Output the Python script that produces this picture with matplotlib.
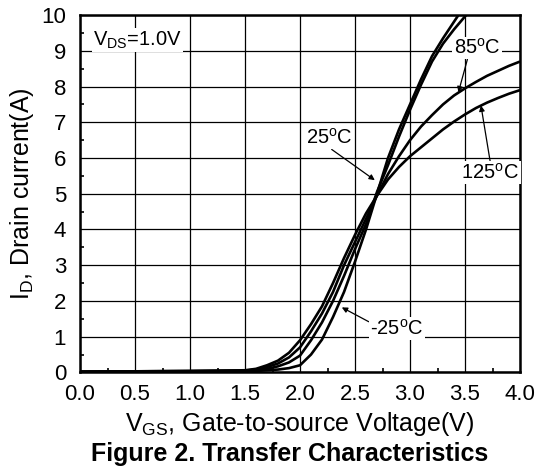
import matplotlib
matplotlib.use("Agg")
import matplotlib.pyplot as plt
from matplotlib.ticker import MultipleLocator

plt.rcParams['font.family'] = ['Liberation Sans', 'DejaVu Sans']
plt.rcParams['mathtext.fontset'] = 'custom'
plt.rcParams['mathtext.rm'] = 'Liberation Sans'
plt.rcParams['mathtext.it'] = 'Liberation Sans:italic'
plt.rcParams['mathtext.bf'] = 'Liberation Sans:bold'

# Vgs (V) and Id (A) readings for each temperature
vgs_125 = [0.0, 0.5, 1.0, 1.5, 1.6, 1.7, 1.8, 1.9, 2.0, 2.1, 2.2, 2.3, 2.4, 2.5, 2.6, 2.7,
           2.8, 2.9, 3.0, 3.1, 3.2, 3.3, 3.4, 3.5, 3.6, 3.7, 3.8, 3.9, 4.0]
id_125 = [0.02, 0.03, 0.04, 0.06, 0.10, 0.20, 0.33, 0.55, 0.90, 1.35, 1.85, 2.50, 3.20, 3.85, 4.45, 4.95,
          5.40, 5.75, 6.05, 6.30, 6.55, 6.80, 7.02, 7.22, 7.40, 7.55, 7.68, 7.80, 7.90]

vgs_85 = [0.0, 0.5, 1.0, 1.5, 1.6, 1.7, 1.8, 1.9, 2.0, 2.1, 2.2, 2.3, 2.4, 2.5, 2.6, 2.7,
          2.8, 2.9, 3.0, 3.1, 3.2, 3.3, 3.4, 3.5, 3.6, 3.7, 3.8, 3.9, 4.0]
id_85 = [0.02, 0.03, 0.04, 0.05, 0.08, 0.15, 0.25, 0.42, 0.70, 1.15, 1.65, 2.25, 3.00, 3.65, 4.30, 4.95,
         5.55, 6.05, 6.50, 6.88, 7.20, 7.50, 7.75, 7.95, 8.13, 8.30, 8.44, 8.58, 8.70]

vgs_25 = [0.0, 0.5, 1.0, 1.5, 1.6, 1.7, 1.8, 1.9, 2.0, 2.1, 2.2, 2.3, 2.4, 2.5, 2.6, 2.7,
          2.8, 2.9, 3.0, 3.1, 3.2, 3.3, 3.4, 3.51]
id_25 = [0.02, 0.03, 0.03, 0.04, 0.06, 0.10, 0.17, 0.28, 0.47, 0.90, 1.40, 2.00, 2.70, 3.45, 4.15, 5.05,
         5.80, 6.60, 7.35, 8.05, 8.70, 9.20, 9.60, 10.0]

vgs_m25 = [0.0, 0.5, 1.0, 1.5, 1.6, 1.7, 1.8, 1.9, 2.0, 2.1, 2.2, 2.3, 2.4, 2.5, 2.6, 2.7,
           2.8, 2.9, 3.0, 3.1, 3.2, 3.3, 3.44]
id_m25 = [0.01, 0.02, 0.03, 0.03, 0.04, 0.06, 0.08, 0.12, 0.20, 0.50, 0.92, 1.55, 2.25, 3.10, 4.00, 5.00,
          6.00, 6.80, 7.50, 8.20, 8.85, 9.35, 10.0]

x_ticks = [0.0, 0.5, 1.0, 1.5, 2.0, 2.5, 3.0, 3.5, 4.0]
y_ticks = [0, 1, 2, 3, 4, 5, 6, 7, 8, 9, 10]

fig = plt.figure(figsize=(5.41, 4.72), dpi=100)
ax = fig.add_axes([0.1479, 0.211, 0.8133, 0.757])

for xs, ys in [(vgs_125, id_125), (vgs_85, id_85), (vgs_25, id_25), (vgs_m25, id_m25)]:
    ax.plot(xs, ys, color='black', lw=1.9, solid_capstyle='butt', zorder=3)

ax.set_xlim(0, 4)
ax.set_ylim(0, 10)
ax.set_xticks(x_ticks)
ax.set_xticklabels([f"{v:.1f}" for v in x_ticks])
ax.set_yticks(y_ticks)
ax.xaxis.set_minor_locator(MultipleLocator(0.25))
ax.yaxis.set_minor_locator(MultipleLocator(0.5))
ax.tick_params(which='both', direction='in', labelsize=16, width=1.2, color='black')
ax.tick_params(which='major', length=0)
ax.tick_params(which='minor', length=3)
ax.tick_params(axis='x', which='major', pad=8)
ax.tick_params(axis='y', which='major', pad=10)
ax.grid(True, which='major', color='black', lw=0.9)
for s in ax.spines.values():
    s.set_linewidth(1.8)

ax.set_xlabel(r"V$_\mathregular{GS}$, Gate-to-source Voltage(V)", fontsize=18)
ax.set_ylabel(r"I$_\mathregular{D}$, Drain current(A)", fontsize=18)
ax.xaxis.set_label_coords(0.5, -0.105)
ax.yaxis.set_label_coords(-0.10, 0.5)
fig.text(0.535, 0.038, "Figure 2. Transfer Characteristics", ha='center', va='center',
         fontsize=18, fontweight='bold')

box = dict(facecolor='white', edgecolor='none', pad=1.0)
ax.text(0.12, 9.3, r"V$_\mathregular{DS}$=1.0V", fontsize=14.5, ha='left', va='center', bbox=box, zorder=4)

arrow = dict(arrowstyle='-|>', color='black', lw=0.9, mutation_scale=8, shrinkA=0, shrinkB=0)
ax.annotate(r"85$^\mathregular{o}$C", xy=(3.44, 7.84), xytext=(3.61, 9.08), fontsize=14.5,
            ha='center', va='center', bbox=box, zorder=4,
            arrowprops=dict(arrow, relpos=(0.3, 0.0)))
ax.annotate(r"25$^\mathregular{o}$C", xy=(2.68, 5.38), xytext=(2.27, 6.56), fontsize=14.5,
            ha='center', va='center', bbox=box, zorder=4,
            arrowprops=dict(arrow, relpos=(0.5, 0.0)))
ax.annotate(r"125$^\mathregular{o}$C", xy=(3.645, 7.47), xytext=(3.73, 5.6), fontsize=14.5,
            ha='center', va='center', bbox=box, zorder=4,
            arrowprops=dict(arrow, relpos=(0.5, 1.0)))
ax.annotate(r"-25$^\mathregular{o}$C", xy=(2.38, 1.82), xytext=(2.88, 1.23), fontsize=14.5,
            ha='center', va='center', bbox=box, zorder=4,
            arrowprops=dict(arrow, relpos=(0.0, 0.8)))

fig.savefig("out.png", dpi=100)
